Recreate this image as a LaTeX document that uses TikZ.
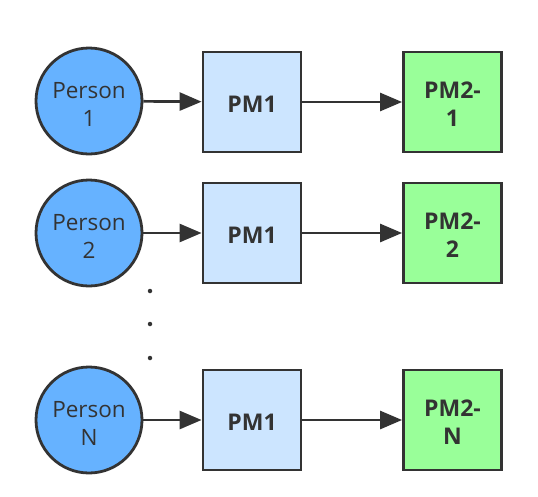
\documentclass[tikz,border=0pt]{standalone}
\usepackage{fontspec}
\setmainfont{Open Sans}
\usetikzlibrary{arrows.meta}
\definecolor{edgec}{HTML}{333333}
\definecolor{personc}{HTML}{66B2FF}
\definecolor{pmonec}{HTML}{CCE5FF}
\definecolor{pmtwoc}{HTML}{99FF99}
\tikzset{
  person/.style={circle, draw=edgec, line width=2.8pt, fill=personc, minimum size=106pt, inner sep=0pt},
  ptext/.style={text=edgec, font=\fontsize{22.5}{28}\selectfont, align=center, yshift=-3.5pt},
  btext/.style={text=edgec, font=\fontsize{23}{28}\selectfont\bfseries, align=center, yshift=-2.5pt},
  pmone/.style={rectangle, draw=edgec, line width=2.8pt, fill=pmonec, minimum width=98pt, minimum height=100pt, inner sep=0pt},
  pmtwo/.style={pmone, fill=pmtwoc},
  conn/.style={draw=edgec, line width=2.7pt, -{Triangle[length=22pt,width=18pt]}},
  dotc/.style={circle, fill=edgec, inner sep=0pt, minimum size=4.5pt}
}
\begin{document}
\begin{tikzpicture}[x=1pt,y=-1pt]
\useasboundingbox (0,0) rectangle (538,496);
\node[person, label={[ptext]center:{Person\\1}}] (p1) at (89,101) {};
\node[pmone, label={[btext]center:{PM1}}] (a1) at (252,102) {};
\node[pmtwo, label={[btext]center:{PM2-\\1}}] (b1) at (452.5,102) {};
\node[person, label={[ptext]center:{Person\\2}}] (p2) at (89,233) {};
\node[pmone, label={[btext]center:{PM1}}] (a2) at (252,233) {};
\node[pmtwo, label={[btext]center:{PM2-\\2}}] (b2) at (452.5,233) {};
\node[person, label={[ptext]center:{Person\\N}}] (p3) at (89,420) {};
\node[pmone, label={[btext]center:{PM1}}] (a3) at (252,420) {};
\node[pmtwo, label={[btext]center:{PM2-\\N}}] (b3) at (452.5,420) {};
\draw[conn] (p1) -- (a1);
\draw[conn] (a1) -- (b1);
\draw[conn] (p2) -- (a2);
\draw[conn] (a2) -- (b2);
\draw[conn] (p3) -- (a3);
\draw[conn] (a3) -- (b3);
\node[dotc] (d1) at (150,291) {};
\node[dotc] (d2) at (150,324) {};
\node[dotc] (d3) at (150,358) {};
\end{tikzpicture}
\end{document}
